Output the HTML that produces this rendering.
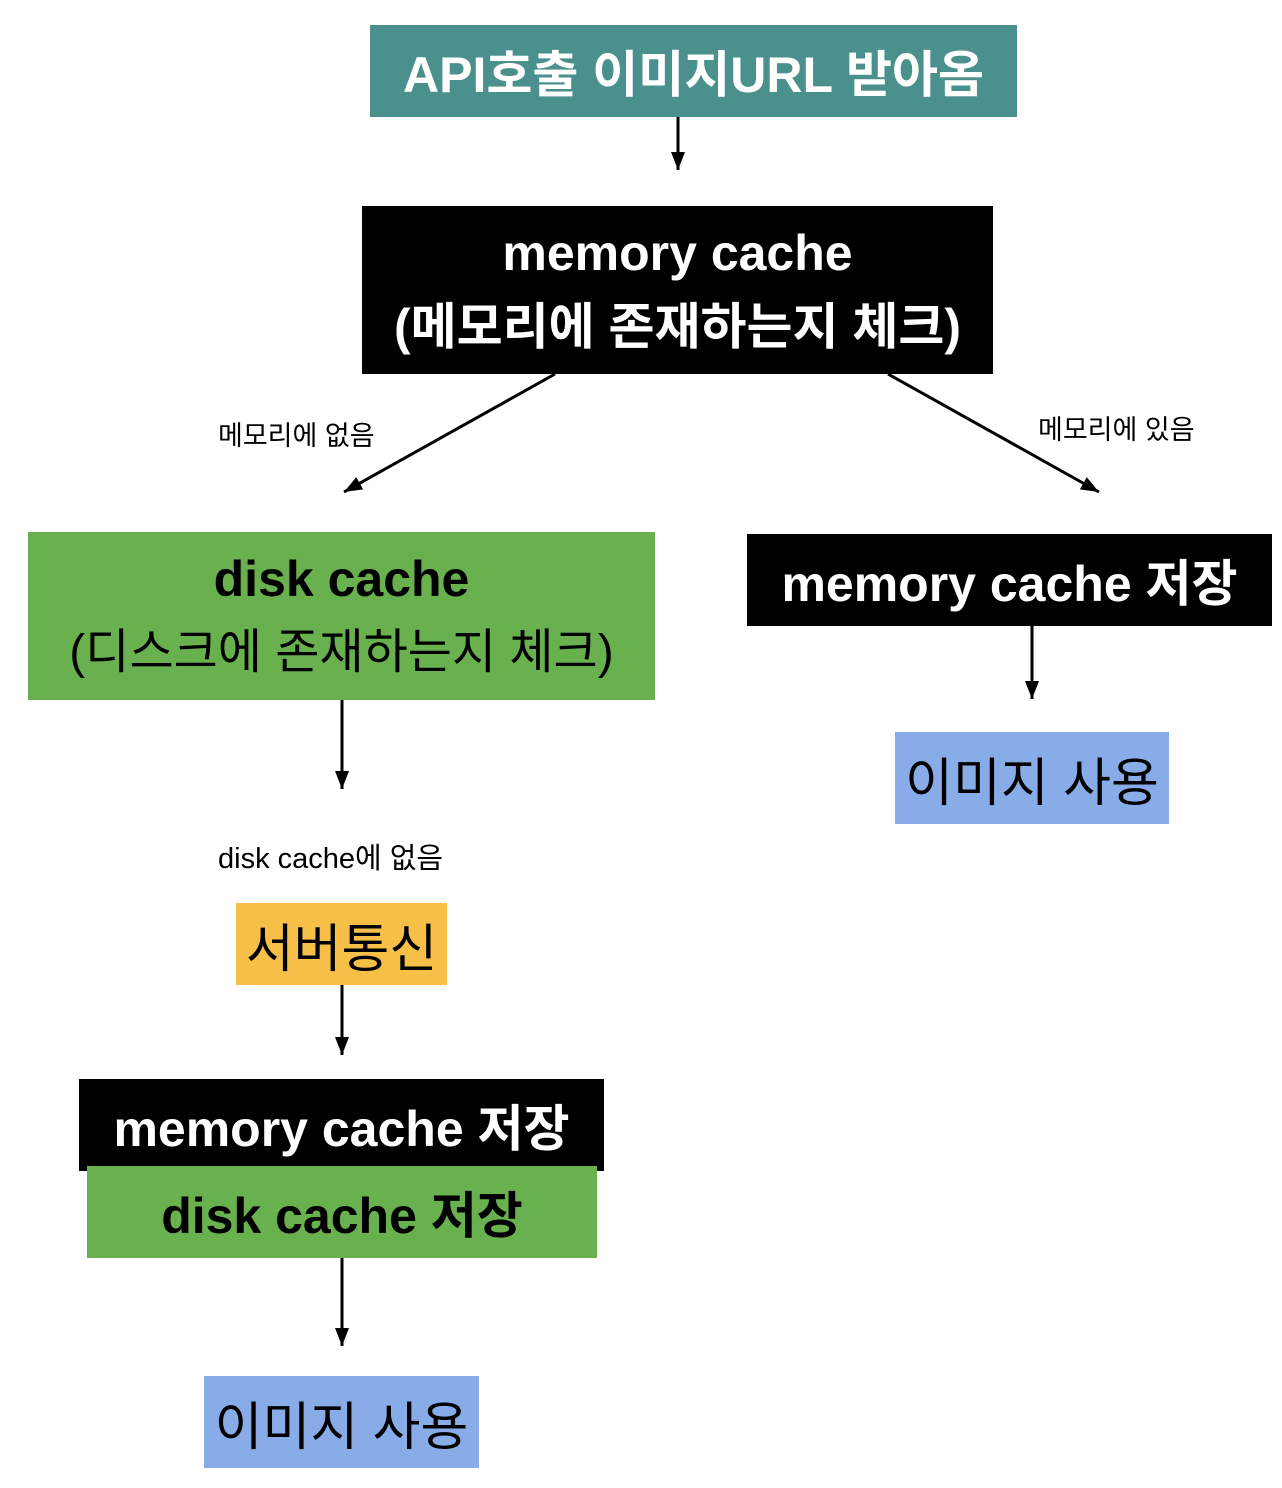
<!DOCTYPE html>
<html><head><meta charset="utf-8"><style>
html,body{margin:0;padding:0;background:#fff;}
body{width:1282px;height:1488px;position:relative;overflow:hidden;font-family:"Liberation Sans","Noto Sans CJK KR",sans-serif;}
.b{position:absolute;display:flex;flex-direction:column;align-items:center;justify-content:center;text-align:center;white-space:nowrap;}
.t{position:absolute;font-size:27px;color:#000;white-space:nowrap;}
svg{position:absolute;left:0;top:0;}
</style></head><body>
<svg width="1282" height="1488">
<defs><marker id="a" markerWidth="10" markerHeight="10" refX="9" refY="5" orient="auto" markerUnits="userSpaceOnUse"><path d="M0,0 L10,5 L0,10 z" fill="#000"/></marker>
<marker id="m" markerWidth="20" markerHeight="20" refX="18" refY="7" orient="auto" markerUnits="userSpaceOnUse"><path d="M0,0 L18,7 L0,14 z" fill="#000"/></marker></defs>
<g stroke="#000" stroke-width="3" fill="none">
<line x1="678" y1="117" x2="678" y2="170" marker-end="url(#m)"/>
<line x1="555" y1="374" x2="344" y2="492" marker-end="url(#m)"/>
<line x1="888" y1="374" x2="1099" y2="492" marker-end="url(#m)"/>
<line x1="1032" y1="626" x2="1032" y2="699" marker-end="url(#m)"/>
<line x1="342" y1="700" x2="342" y2="789" marker-end="url(#m)"/>
<line x1="342" y1="985" x2="342" y2="1055" marker-end="url(#m)"/>
<line x1="342" y1="1258" x2="342" y2="1346" marker-end="url(#m)"/>
</g></svg>
<div class="b" style="left:370px;top:25px;width:647px;height:92px;background:#4a918e;color:#fff;font-weight:bold;font-size:50px;">API호출 이미지URL 받아옴</div>
<div class="b" style="left:362px;top:206px;width:631px;height:168px;background:#000;color:#fff;font-weight:bold;font-size:50px;line-height:74px;"><div>memory cache</div><div>(메모리에 존재하는지 체크)</div></div>
<div class="t" style="left:218px;top:414px;">메모리에 없음</div>
<div class="t" style="left:1038px;top:408px;">메모리에 있음</div>
<div class="b" style="left:28px;top:532px;width:627px;height:168px;background:#68b14e;color:#000;font-size:48px;line-height:74px;"><div style="font-weight:bold;font-size:50px;">disk cache</div><div>(디스크에 존재하는지 체크)</div></div>
<div class="b" style="left:747px;top:534px;width:525px;height:92px;background:#000;color:#fff;font-weight:bold;font-size:50px;">memory cache 저장</div>
<div class="b" style="left:895px;top:732px;width:274px;height:92px;background:#88ace8;color:#000;font-size:52px;">이미지 사용</div>
<div class="t" style="left:218px;top:835px;font-size:29px;">disk cache에 없음</div>
<div class="b" style="left:236px;top:903px;width:211px;height:82px;background:#f6bf48;color:#000;font-size:52px;">서버통신</div>
<div class="b" style="left:79px;top:1079px;width:525px;height:92px;background:#000;color:#fff;font-weight:bold;font-size:50px;">memory cache 저장</div>
<div class="b" style="left:87px;top:1166px;width:510px;height:92px;background:#68b14e;color:#000;font-weight:bold;font-size:50px;">disk cache 저장</div>
<div class="b" style="left:204px;top:1376px;width:275px;height:92px;background:#88ace8;color:#000;font-size:52px;">이미지 사용</div>
</body></html>
